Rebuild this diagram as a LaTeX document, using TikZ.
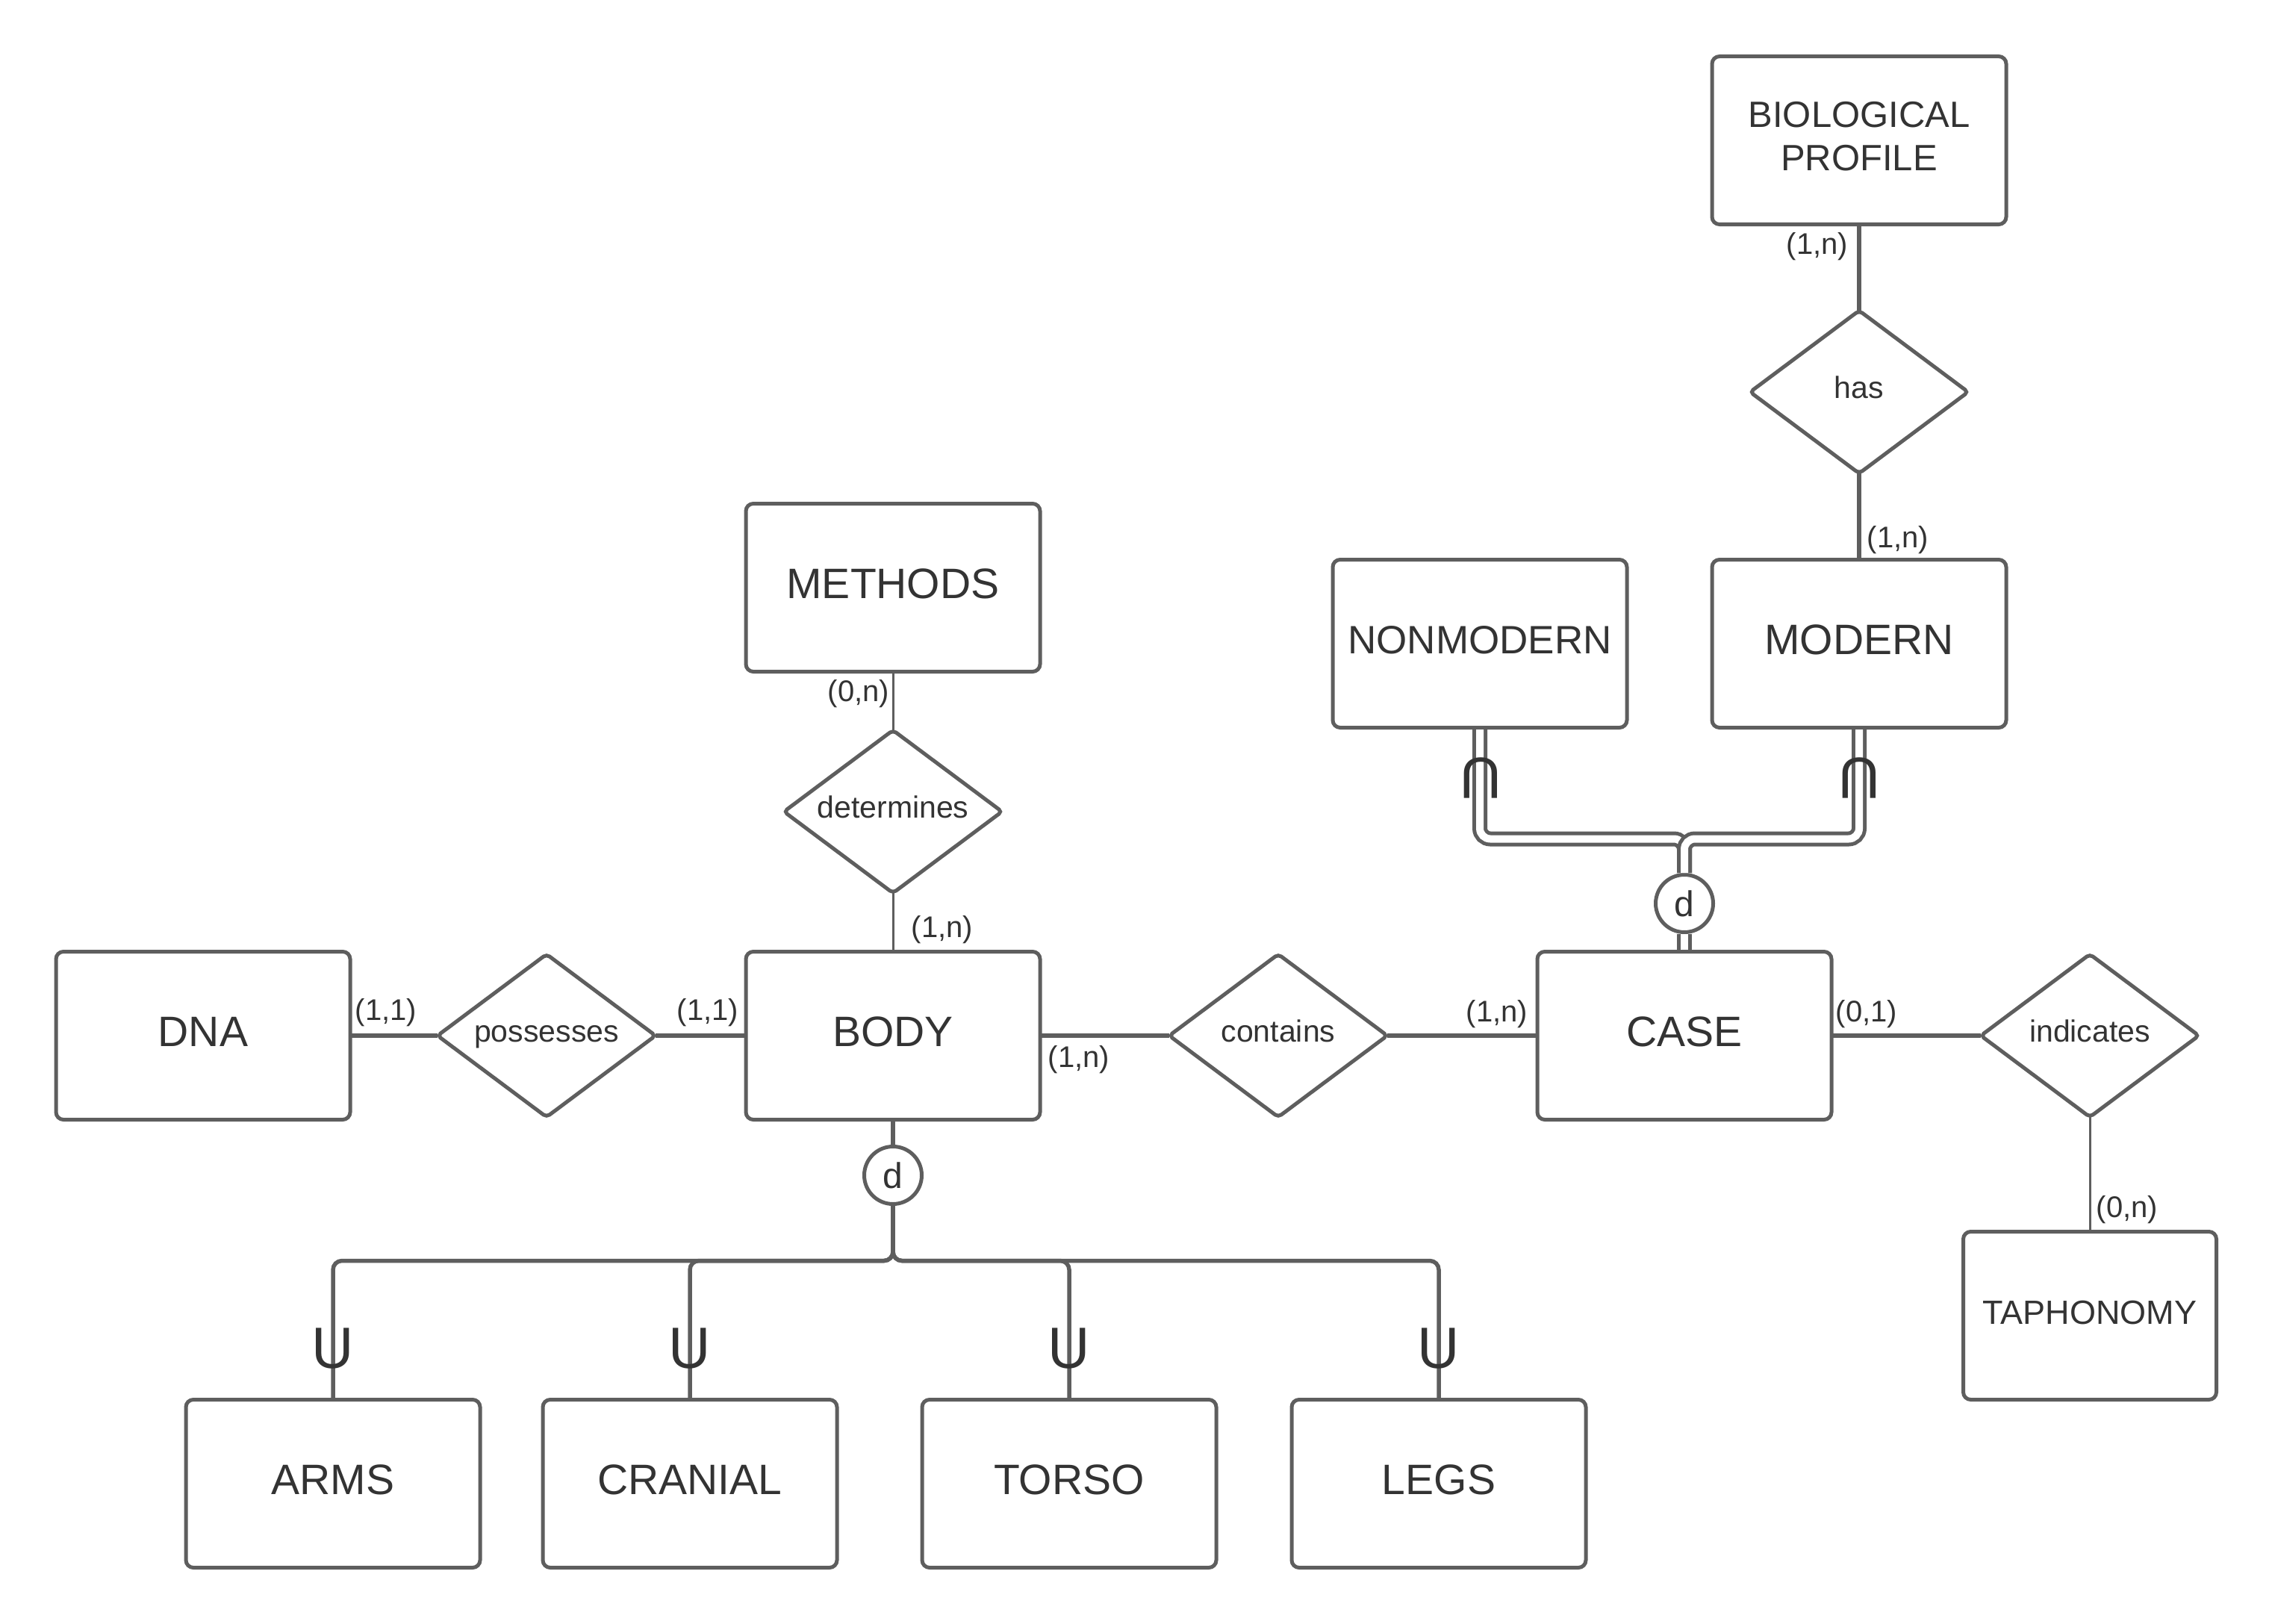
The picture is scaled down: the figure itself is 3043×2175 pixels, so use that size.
\documentclass[tikz,border=0pt]{standalone}
\usepackage{fontspec}
\setmainfont{Liberation Sans}
\usetikzlibrary{shapes.geometric}
\definecolor{ln}{HTML}{5E5E5E}
\definecolor{tx}{HTML}{333333}
\begin{document}
\begin{tikzpicture}[x=1pt,y=-1pt,
  entbase/.style={rectangle, draw=ln, line width=5pt, rounded corners=10pt, minimum width=394pt, minimum height=225pt, fill=white, text=tx, inner sep=0pt, outer sep=0pt},
  ent/.style={entbase, font=\fontsize{57}{68}\selectfont, text height=42.75pt, text depth=14.25pt},
  rel/.style={diamond, draw=ln, line width=5pt, rounded corners=5pt, minimum width=292pt, minimum height=218pt, shape aspect=1.34, inner sep=0pt, outer sep=0pt, fill=white, text=tx, font=\fontsize{41}{49}\selectfont, text height=27.6pt, text depth=10.5pt},
  dcirc/.style={circle, draw=ln, line width=5pt, minimum size=77pt, inner sep=0pt, outer sep=0pt, fill=white, text=tx, font=\fontsize{48}{58}\selectfont, text height=34.4pt, text depth=0pt},
  card/.style={text=tx, inner sep=0pt, font=\fontsize{40}{48}\selectfont, text height=29.2pt, text depth=8.4pt},
  thickln/.style={draw=ln, line width=6pt},
  thinln/.style={draw=ln, line width=3pt},
  tree/.style={draw=ln, line width=5.5pt, rounded corners=12pt},
  dbl/.style={draw=ln, line width=5pt, double=white, double distance=10pt, rounded corners=14pt, shorten <=2.5pt, shorten >=2.5pt},
  subs/.style={text=tx, inner sep=0pt, font=\fontsize{78}{90}\selectfont, text height=55.8pt, text depth=0pt},
]
\fill[white] (0,0) rectangle (3043,2175);
\useasboundingbox (0,0) rectangle (3043,2175);

% entities
\node[entbase, font=\fontsize{49}{58}\selectfont] (bio) at (2490,188) {\begin{tabular}{@{}c@{}}BIOLOGICAL\\PROFILE\end{tabular}};
\node[ent] (methods) at (1196,787) {METHODS};
\node[ent, font=\fontsize{53}{64}\selectfont, text height=39.75pt, text depth=13.25pt] (nonmod) at (1982,862) {NONMODERN};
\node[ent] (modern) at (2490,862) {MODERN};
\node[ent] (dna) at (272,1387) {DNA};
\node[ent] (body) at (1196,1387) {BODY};
\node[ent] (case) at (2256,1387) {CASE};
\node[ent, minimum width=339pt, font=\fontsize{45}{54}\selectfont, text height=33.75pt, text depth=11.25pt] (taph) at (2799,1762) {TAPHONOMY};
\node[ent] (arms) at (446,1987) {ARMS};
\node[ent] (cranial) at (924,1987) {CRANIAL};
\node[ent] (torso) at (1432,1987) {TORSO};
\node[ent] (legs) at (1927,1987) {LEGS};

% relationships
\node[rel] (has) at (2490,525) {has};
\node[rel] (determ) at (1196,1087) {determines};
\node[rel] (poss) at (732,1387) {possesses};
\node[rel] (contains) at (1712,1387) {contains};
\node[rel] (indic) at (2799,1387) {indicates};

% disjoint circles
\node[dcirc] (bd) at (1196,1574) {d};
\node[dcirc] (cd) at (2256,1210) {d};

% connectors
\draw[thickln] (bio) -- (has);
\draw[thickln] (has) -- (modern);
\draw[thinln] (methods) -- (determ);
\draw[thinln] (determ) -- (body);
\draw[thickln] (dna) -- (poss);
\draw[thickln] (poss) -- (body);
\draw[thickln] (body) -- (contains);
\draw[thickln] (contains) -- (case);
\draw[thickln] (case) -- (indic);
\draw[thinln] (indic) -- (taph);

% specialization of BODY
\draw[tree] (body) -- (bd);
\draw[tree] (bd.south) -- ++(0,76) -| (arms.north);
\draw[tree] (bd.south) -- ++(0,76) -| (cranial.north);
\draw[tree] (bd.south) -- ++(0,76) -| (torso.north);
\draw[tree] (bd.south) -- ++(0,76) -| (legs.north);

% specialization of CASE
\draw[dbl] (case) -- (cd);
\draw[dbl] (cd.north) -- ++(0,-48) -| (nonmod.south);
\draw[dbl] (cd.north) -- ++(0,-48) -| (modern.south);

% subset symbols
\node[subs] (u1) at (446,1805) {U};
\node[subs] (u2) at (924,1805) {U};
\node[subs] (u3) at (1432,1805) {U};
\node[subs] (u4) at (1927,1805) {U};
\node[subs, rotate=180] (n1) at (1983,1043) {U};
\node[subs, rotate=180] (n2) at (2490,1043) {U};

% cardinalities
\node[card] (c1) at (2434,330) {(1,n)};
\node[card] (c2) at (2542,723) {(1,n)};
\node[card] (c3) at (1150,929) {(0,n)};
\node[card] (c4) at (1262,1245) {(1,n)};
\node[card] (c5) at (517,1356) {(1,1)};
\node[card] (c6) at (948,1356) {(1,1)};
\node[card] (c7) at (1445,1419) {(1,n)};
\node[card] (c8) at (2005,1358) {(1,n)};
\node[card] (c9) at (2500,1358) {(0,1)};
\node[card] (c10) at (2849,1620) {(0,n)};
\end{tikzpicture}
\end{document}
